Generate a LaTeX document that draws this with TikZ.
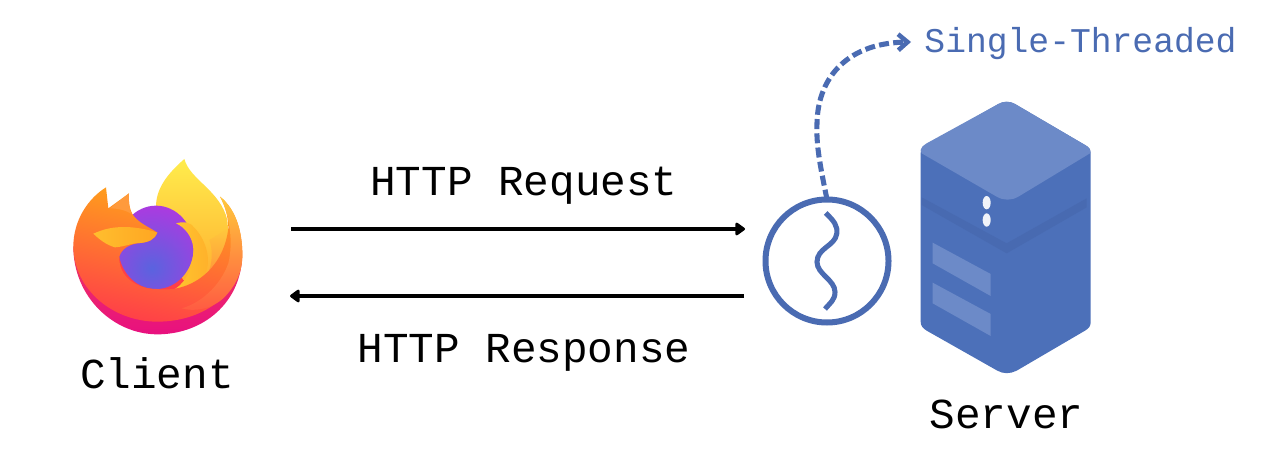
\documentclass[tikz,border=0pt]{standalone}
\usepackage{fontspec}
\setmonofont{Liberation Mono}
\usetikzlibrary{arrows.meta}
\definecolor{srvblue}{HTML}{4C70B9}
\definecolor{srvdark}{HTML}{486AB1}
\definecolor{srvlight}{HTML}{6C8AC8}
\definecolor{thr}{HTML}{4A6BB2}
\definecolor{frim1}{HTML}{E8107F}
\definecolor{frim2}{HTML}{F03A5C}
\definecolor{fy1}{HTML}{FFEC4C}
\definecolor{fy2}{HTML}{FFB030}
\definecolor{gb}{HTML}{5A63DF}
\definecolor{gp}{HTML}{AC3AE0}
\definecolor{ft1}{HTML}{FFC42E}
\definecolor{ft2}{HTML}{FFB02A}
\definecolor{fo1}{HTML}{FFC83C}
\definecolor{fo2}{HTML}{FF9A3A}
\definecolor{fb1}{HTML}{FFA818}
\definecolor{fbm}{HTML}{FF7430}
\definecolor{fb2}{HTML}{FF3F48}
\definecolor{fw1}{HTML}{FFC83C}
\definecolor{fwm}{HTML}{FFCC3C}
\definecolor{fw2}{HTML}{FF5A42}
\definecolor{fe}{HTML}{FF9A3C}
\definecolor{fc1}{HTML}{FFBE2E}
\definecolor{fc2}{HTML}{FFA622}
\tikzset{
  lbl/.style={font=\ttfamily\fontsize{32}{32}\selectfont,text=black,inner sep=0pt},
  blbl/.style={font=\ttfamily\fontsize{26}{26}\selectfont,text=thr,inner sep=0pt},
  msg/.style={line width=3.2pt,draw=black,-{Triangle[round,length=8pt,width=11pt]}},
  wave/.style={line width=3.8pt,draw=thr},
  thread/.style={circle,draw=thr,line width=4.5pt,minimum size=92.25pt,inner sep=0pt,outer sep=0pt},
  dashlink/.style={line width=3.8pt,draw=thr,dash pattern=on 7.5pt off 3.2pt,-{Straight Barb[length=7pt,width=12pt,line width=3.4pt]}},
  icon/.style={x=0.25pt,y=-0.25pt}
}
\begin{document}
\begin{tikzpicture}[x=0.75pt,y=-0.75pt]
\useasboundingbox (0,0) rectangle (1280,463);
\fill[white] (0,0) rectangle (1280,463);

% Firefox icon (coordinates in 3x crop units)
\begin{scope}[shift={(50,140)},icon]
  % magenta rim
  \shade[bottom color=frim1,top color=frim2] (70,320) .. controls (70,470) and (190,583) .. (322,583)
     .. controls (450,583) and (560,500) .. (575,370) -- (440,300) -- (100,300) -- cycle;
  % filler behind the globe
  \fill[fb2] (320,350) circle [radius=135];
  % back flame
  \shade[top color=fy1,bottom color=fy2] (318,200) .. controls (318,140) and (360,95) .. (403,57)
     .. controls (420,120) and (510,150) .. (532,240) -- (545,400) -- (400,420) -- (300,250) -- cycle;
  % globe
  \begin{scope}
    \clip (318,322) ellipse [x radius=113,y radius=125];
    \shade[inner color=gb,outer color=gp] (305,385) circle [radius=190];
  \end{scope}
  % tail around globe
  \shade[left color=ft1,right color=ft2] (378,250) .. controls (405,242) and (425,250) .. (432,262)
     .. controls (465,295) and (482,350) .. (470,390) .. controls (460,420) and (430,445) .. (400,450)
     -- (375,447) .. controls (412,425) and (432,370) .. (430,325) .. controls (427,290) and (405,262) .. (378,250) -- cycle;
  % orange patch between tail and wing
  \shade[top color=fo1,bottom color=fo2] (478,392) .. controls (490,350) and (485,320) .. (478,300) -- (535,265) -- (530,340) -- cycle;
  % main body
  \shade[top color=fb1,middle color=fbm,bottom color=fb2,shading angle=-12]
     (168,142) -- (175,205) -- (237,160) .. controls (235,185) and (238,205) .. (247,222)
     .. controls (265,250) and (300,262) .. (322,278) .. controls (315,298) and (295,307) .. (270,309)
     .. controls (240,312) and (215,325) .. (208,350) .. controls (205,410) and (260,447) .. (320,447)
     .. controls (420,460) and (520,390) .. (535,265) .. controls (535,230) and (525,195) .. (510,170)
     .. controls (555,205) and (577,270) .. (577,345) .. controls (577,450) and (470,545) .. (322,545)
     .. controls (190,545) and (72,450) .. (70,320) .. controls (70,240) and (115,175) .. (168,142) -- cycle;
  % wing highlight
  \shade[top color=fw1,middle color=fwm,bottom color=fw2] (510,170) .. controls (555,205) and (577,270) .. (577,345)
     .. controls (577,400) and (555,440) .. (520,475) .. controls (480,510) and (430,515) .. (395,505)
     .. controls (450,490) and (510,440) .. (535,370) .. controls (550,310) and (540,225) .. (510,170) -- cycle;
  % second ear
  \fill[fe] (237,160) -- (180,205) .. controls (205,205) and (230,212) .. (245,222) .. controls (238,205) and (235,185) .. (237,160) -- cycle;
  % fox face
  \shade[left color=fc1,right color=fc2] (130,281) .. controls (160,268) and (190,258) .. (245,262)
     .. controls (275,265) and (300,270) .. (322,278) .. controls (315,298) and (295,307) .. (270,309)
     .. controls (245,309) and (225,320) .. (195,322) .. controls (170,315) and (150,300) .. (130,281) -- cycle;
\end{scope}

% Server (coordinates in 3x crop units)
\begin{scope}[shift={(900,90)},icon]
  \fill[srvblue] (62,190) .. controls (62,178) and (66,170) .. (80,165) -- (295,42) .. controls (310,33) and (330,33) .. (345,42)
     -- (555,165) .. controls (568,172) and (572,178) .. (572,190) -- (572,695) .. controls (572,708) and (568,714) .. (555,722)
     -- (350,842) .. controls (330,852) and (310,852) .. (292,842) -- (80,722) .. controls (68,714) and (62,708) .. (62,695) -- cycle;
  \fill[srvdark] (65,322) -- (320,460) -- (560,325) -- (560,352) -- (320,490) -- (65,345) -- cycle;
  \fill[srvlight] (62,180) .. controls (62,172) and (70,167) .. (80,160) -- (295,42) .. controls (310,33) and (330,33) .. (345,42)
     -- (555,165) .. controls (568,172) and (572,178) .. (570,190) -- (355,320) .. controls (335,332) and (310,332) .. (290,320) -- (65,190) -- cycle;
  \fill[srvlight] (98,458) -- (272,552) -- (272,618) -- (98,520) -- cycle;
  \fill[srvlight] (98,578) -- (272,672) -- (272,738) -- (98,640) -- cycle;
  \fill[white!90!srvlight] (260,338) ellipse [x radius=12,y radius=20];
  \fill[white!90!srvlight] (260,390) ellipse [x radius=12,y radius=20];
\end{scope}

% labels
\node[lbl] (client) at (157,373) {Client};
\node[lbl] (server) at (1006.5,414) {Server};
\node[lbl] (req) at (524,186) {HTTP Request};
\node[lbl] (resp) at (524,353) {HTTP Response};
\node[blbl] (single) at (1080.5,44) {Single-Threaded};

% thread
\node[thread] (th) at (827,261) {};
\draw[wave] (825.7,213) .. controls (834,221) and (838,226) .. (836.7,234)
   .. controls (835,246) and (817,248) .. (817,262)
   .. controls (817,274) and (835,280) .. (835,292)
   .. controls (835,300) and (830,303) .. (825,309);

% connectors
\coordinate (reqA) at (291,229);
\coordinate (reqB) at (745,229);
\coordinate (respA) at (744,296);
\coordinate (respB) at (290,296);
\draw[msg] (reqA) -- (reqB);
\draw[msg] (respA) -- (respB);
\coordinate (dashEnd) at (911,42);
\draw[dashlink] (th.north) .. controls (820,165) and (816,145) .. (817,123) .. controls (818,75) and (850,43) .. (dashEnd);
\end{tikzpicture}
\end{document}
